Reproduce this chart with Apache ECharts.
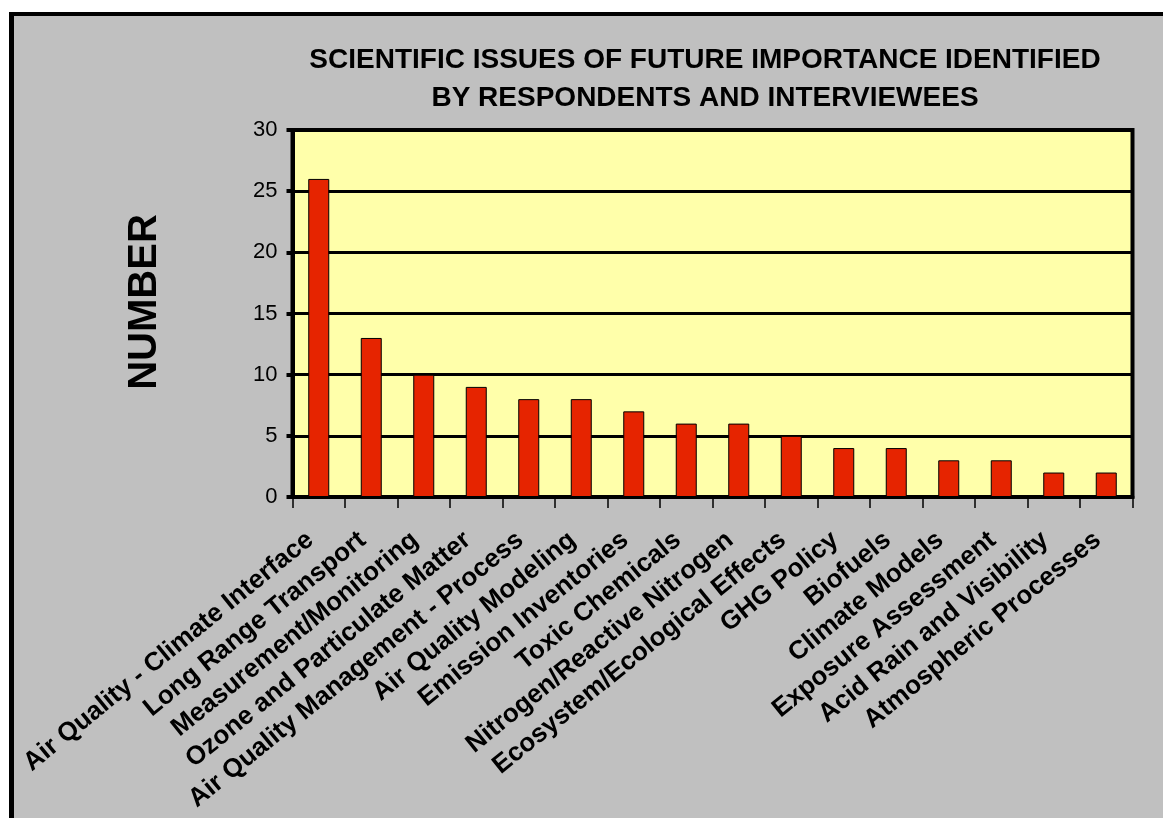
<!DOCTYPE html>
<html>
<head>
<meta charset="utf-8">
<script src="https://cdn.jsdelivr.net/npm/echarts@6/dist/echarts.min.js"></script>
<style>
  html, body { margin: 0; padding: 0; background: #ffffff; width: 1163px; height: 818px; overflow: hidden; }
  #frame { position: absolute; left: 9px; top: 12px; width: 1154px; height: 806px; box-sizing: border-box;
           background: #c0c0c0; border-left: 5px solid #000; border-top: 4px solid #000; }
  #chart { position: absolute; left: 0; top: 0; width: 1163px; height: 818px; }
</style>
</head>
<body>
<div id="frame"></div>
<div id="chart"></div>
<script>
const categories = [
  "Air Quality - Climate Interface",
  "Long Range Transport",
  "Measurement/Monitoring",
  "Ozone and Particulate Matter",
  "Air Quality Management - Process",
  "Air Quality Modeling",
  "Emission Inventories",
  "Toxic Chemicals",
  "Nitrogen/Reactive Nitrogen",
  "Ecosystem/Ecological Effects",
  "GHG Policy",
  "Biofuels",
  "Climate Models",
  "Exposure Assessment",
  "Acid Rain and Visibility",
  "Atmospheric Processes"
];
const values = [26, 13, 10, 9, 8, 8, 7, 6, 6, 5, 4, 4, 3, 3, 2, 2];
const titleLines = ["SCIENTIFIC ISSUES OF FUTURE IMPORTANCE IDENTIFIED", "BY RESPONDENTS AND INTERVIEWEES"];
const yAxisTitle = "NUMBER";

const FONT = "'Liberation Sans', Arial, sans-serif";
const chart = echarts.init(document.getElementById('chart'), null, { renderer: 'canvas' });
chart.setOption({
  backgroundColor: 'transparent',
  animation: false,
  grid: {
    left: 292.5, right: 30.5, top: 130, bottom: 321,
    show: true, backgroundColor: '#ffffaa', borderColor: '#000', borderWidth: 4
  },
  graphic: [
    { type: 'text', x: 705, y: 60, style: { text: titleLines[0], font: "bold 28px " + FONT, fill: '#000', textAlign: 'center', textVerticalAlign: 'middle' } },
    { type: 'text', x: 705, y: 98, style: { text: titleLines[1], font: "bold 28px " + FONT, fill: '#000', textAlign: 'center', textVerticalAlign: 'middle' } },
    { type: 'text', x: 145, y: 302, rotation: Math.PI / 2, style: { text: yAxisTitle, font: "bold 40px " + FONT, fill: '#000', textAlign: 'center', textVerticalAlign: 'middle' } }
  ],
  xAxis: {
    type: 'category',
    data: categories,
    boundaryGap: true,
    axisLine: { show: true, lineStyle: { color: '#000', width: 4 } },
    axisTick: { show: true, interval: 0, length: 11, lineStyle: { color: '#000', width: 1.5 } },
    axisLabel: {
      interval: 0, rotate: 39, margin: 33, padding: [0, 11, 0, 0],
      fontFamily: FONT, fontWeight: 'bold', fontSize: 26, color: '#000'
    },
    splitLine: { show: false }
  },
  yAxis: {
    type: 'value',
    min: 0, max: 30, interval: 5,
    axisLine: { show: true, lineStyle: { color: '#000', width: 4 } },
    axisTick: { show: true, length: 6, lineStyle: { color: '#000', width: 4 } },
    axisLabel: { margin: 15, fontFamily: FONT, fontSize: 22, color: '#000' },
    splitLine: { show: true, lineStyle: { color: '#000', width: 3 } }
  },
  series: [{
    type: 'bar',
    data: values,
    barWidth: '40%',
    itemStyle: { color: '#e62400', borderColor: '#000', borderWidth: 1 }
  }]
});
</script>
</body>
</html>
